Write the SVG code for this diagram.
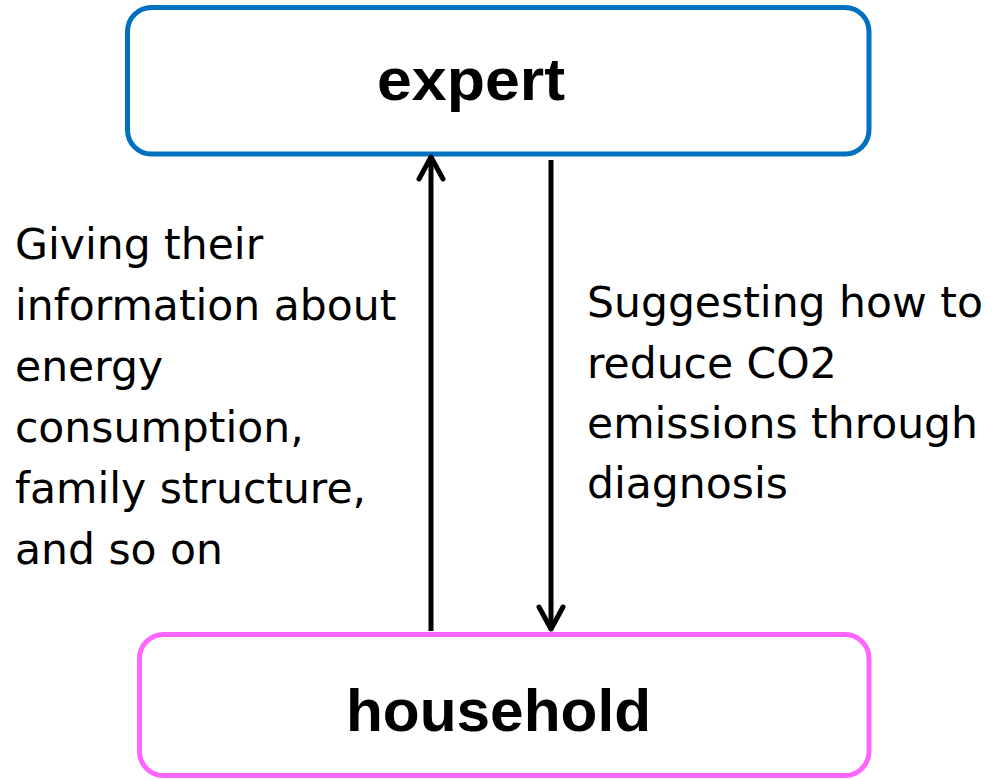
<svg xmlns="http://www.w3.org/2000/svg" width="992" height="779" viewBox="0 0 992 779">
<style>
.box{fill:#fff;stroke-width:5}
.title{font-family:"Liberation Sans",Arial,sans-serif;font-weight:bold;font-size:60px;fill:#000}
.lbl{font-family:"DejaVu Sans",Verdana,sans-serif;font-size:42.5px;fill:#000}
.conn{stroke:#000;stroke-width:5;fill:none}
</style>
<defs>
<marker id="arr" markerUnits="userSpaceOnUse" viewBox="-26 -16 30 32" refX="0" refY="0" markerWidth="30" markerHeight="32" orient="auto">
<path d="M-22,-12 L0,0 L-22,12" fill="none" stroke="#000" stroke-width="5" stroke-linecap="round" stroke-linejoin="round"/>
</marker>
</defs>
<rect width="992" height="779" fill="#fff"/>
<g id="expert">
<rect class="box" x="127.5" y="7.5" width="741.5" height="146.5" rx="24" ry="24" stroke="#0070C0"/>
<text class="title" x="377" y="100" textLength="188" lengthAdjust="spacingAndGlyphs">expert</text>
</g>
<g id="household">
<rect class="box" x="139.5" y="634.5" width="729.5" height="141" rx="24" ry="24" stroke="#FF66FF"/>
<text class="title" x="346" y="731" textLength="305" lengthAdjust="spacingAndGlyphs">household</text>
</g>
<g id="connectors">
<line class="conn" x1="431" y1="631" x2="431" y2="157" marker-end="url(#arr)"/>
<line class="conn" x1="551" y1="160" x2="551" y2="629" marker-end="url(#arr)"/>
</g>
<g id="label-left">
<text class="lbl" x="15" y="259">Giving their</text>
<text class="lbl" x="15" y="320">information about</text>
<text class="lbl" x="15" y="381">energy</text>
<text class="lbl" x="15" y="442">consumption,</text>
<text class="lbl" x="15" y="503">family structure,</text>
<text class="lbl" x="15" y="564">and so on</text>
</g>
<g id="label-right">
<text class="lbl" x="587" y="317">Suggesting how to</text>
<text class="lbl" x="587" y="378">reduce CO2</text>
<text class="lbl" x="587" y="438">emissions through</text>
<text class="lbl" x="587" y="498">diagnosis</text>
</g>
</svg>
